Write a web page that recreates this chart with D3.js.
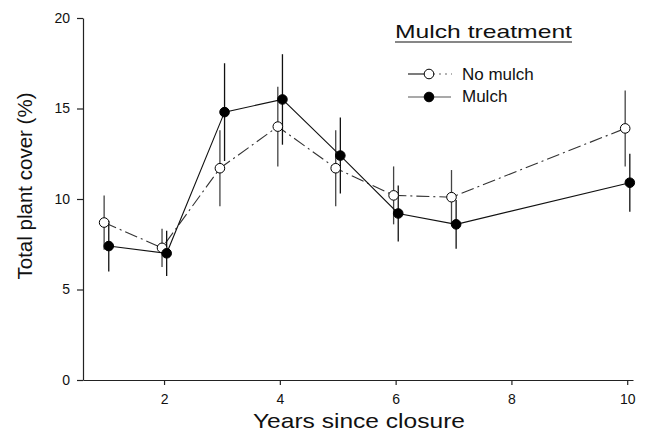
<!DOCTYPE html>
<html>
<head>
<meta charset="utf-8">
<script src="https://cdn.jsdelivr.net/npm/d3@7.8.5/dist/d3.min.js"></script>
<style>
  body { margin: 0; background: #fff; }
  svg { font-family: "Liberation Sans", Arial, sans-serif; }
</style>
</head>
<body>
<div id="chart"></div>
<script>
// Data
const years = [1, 2, 3, 4, 5, 6, 7, 10];
const noMulch = [8.7, 7.3, 11.7, 14.0, 11.7, 10.2, 10.1, 13.9];
const noMulchErr = [1.5, 1.05, 2.1, 2.2, 2.1, 1.6, 1.5, 2.1];
const mulch = [7.4, 7.0, 14.8, 15.5, 12.4, 9.2, 8.6, 10.9];
const mulchErr = [1.4, 1.25, 2.7, 2.5, 2.1, 1.55, 1.35, 1.6];
const xTicks = [2, 4, 6, 8, 10];
const yTicks = [0, 5, 10, 15, 20];

const width = 650, height = 433;

const svg = d3.select('#chart').append('svg')
    .attr('width', width)
    .attr('height', height);

const x = d3.scaleLinear().domain([0.6, 10.1]).range([83, 633]);
const y = d3.scaleLinear().domain([0, 20]).range([380, 18]);

// Axes
const xAxis = svg.append('g')
    .attr('transform', `translate(0,${y(0)})`)
    .call(d3.axisBottom(x).tickValues(xTicks).tickSize(5).tickSizeOuter(0).tickPadding(9));

const yAxis = svg.append('g')
    .attr('transform', `translate(${x(0.6)},0)`)
    .call(d3.axisLeft(y).tickValues(yTicks).tickSize(6).tickSizeOuter(0).tickPadding(7));

[xAxis, yAxis].forEach(g => {
    g.selectAll('path, line').attr('stroke', '#222').attr('stroke-width', 1.2);
    g.selectAll('text')
        .attr('fill', '#111')
        .style('font-size', '14px')
        .style('font-family', '"Liberation Sans", Arial, sans-serif');
});

// Axis titles
svg.append('text')
    .attr('x', 359)
    .attr('y', 428)
    .attr('text-anchor', 'middle')
    .attr('textLength', 212)
    .attr('lengthAdjust', 'spacingAndGlyphs')
    .style('font-size', '21px')
    .attr('fill', '#111')
    .text('Years since closure');

svg.append('text')
    .attr('transform', 'translate(32,186) rotate(-90)')
    .attr('text-anchor', 'middle')
    .attr('textLength', 187)
    .attr('lengthAdjust', 'spacingAndGlyphs')
    .style('font-size', '21px')
    .attr('fill', '#111')
    .text('Total plant cover (%)');

// Series
const series = [
    { name: 'No mulch', values: noMulch, err: noMulchErr, dx: -0.035, fill: '#fff',
      lineColor: '#333', dash: '13,4,2,4', errColor: '#444' },
    { name: 'Mulch', values: mulch, err: mulchErr, dx: 0.045, fill: '#000',
      lineColor: '#111', dash: null, errColor: '#111' }
];

const line = d3.line()
    .x(d => x(d.x))
    .y(d => y(d.y));

series.forEach(s => {
    const pts = years.map((yr, i) => ({ x: yr + s.dx, y: s.values[i], e: s.err[i] }));

    // Error bars
    svg.append('g').selectAll('line')
        .data(pts)
        .enter()
        .append('line')
        .attr('x1', d => x(d.x))
        .attr('x2', d => x(d.x))
        .attr('y1', d => y(d.y - d.e))
        .attr('y2', d => y(d.y + d.e))
        .attr('stroke', s.errColor)
        .attr('stroke-width', 1.3);

    // Connecting line
    svg.append('path')
        .datum(pts)
        .attr('d', line)
        .attr('fill', 'none')
        .attr('stroke', s.lineColor)
        .attr('stroke-width', 1.1)
        .attr('stroke-dasharray', s.dash);

    s.pts = pts;
});

// Markers on top
series.forEach(s => {
    svg.append('g').selectAll('circle')
        .data(s.pts)
        .enter()
        .append('circle')
        .attr('cx', d => x(d.x))
        .attr('cy', d => y(d.y))
        .attr('r', 4.8)
        .attr('fill', s.fill)
        .attr('stroke', '#000')
        .attr('stroke-width', 1);
});

// Legend
const legend = svg.append('g');

legend.append('text')
    .attr('x', 395)
    .attr('y', 38)
    .attr('textLength', 177)
    .attr('lengthAdjust', 'spacingAndGlyphs')
    .style('font-size', '19px')
    .attr('fill', '#111')
    .text('Mulch treatment');

legend.append('line')
    .attr('x1', 395).attr('x2', 572)
    .attr('y1', 42).attr('y2', 42)
    .attr('stroke', '#111')
    .attr('stroke-width', 1.2);

const legendRows = [
    { s: series[0], y: 74, baseline: 80 },
    { s: series[1], y: 97, baseline: 102 }
];

legendRows.forEach(r => {
    if (r.s.dash) {
        legend.append('line')
            .attr('x1', 408).attr('x2', 424)
            .attr('y1', r.y).attr('y2', r.y)
            .attr('stroke', '#111').attr('stroke-width', 1.1);
        legend.append('line')
            .attr('x1', 433).attr('x2', 452)
            .attr('y1', r.y).attr('y2', r.y)
            .attr('stroke', '#666').attr('stroke-width', 1.1)
            .attr('stroke-dasharray', '2,4');
    } else {
        legend.append('line')
            .attr('x1', 408).attr('x2', 451)
            .attr('y1', r.y).attr('y2', r.y)
            .attr('stroke', '#555').attr('stroke-width', 1.1);
    }
    legend.append('circle')
        .attr('cx', 429)
        .attr('cy', r.y)
        .attr('r', 4.8)
        .attr('fill', r.s.fill)
        .attr('stroke', '#000');
    legend.append('text')
        .attr('x', 462)
        .attr('y', r.baseline)
        .style('font-size', '17px')
        .attr('fill', '#111')
        .text(r.s.name);
});
</script>
</body>
</html>
